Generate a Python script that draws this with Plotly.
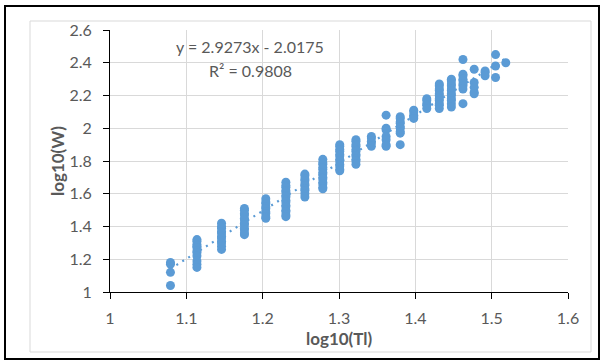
import plotly.graph_objects as go

# ---- data ----
x_groups = [1.0792, 1.1139, 1.1461, 1.1761, 1.2041, 1.2304, 1.2553, 1.2788,
            1.3010, 1.3222, 1.3424, 1.3617, 1.3802, 1.3979, 1.4150, 1.4314,
            1.4472, 1.4624, 1.4771, 1.4914, 1.5051, 1.5185]

y_groups = [
    [1.18, 1.17, 1.12, 1.04],
    [1.32, 1.31, 1.29, 1.28, 1.27, 1.25, 1.24, 1.22, 1.19, 1.17, 1.15],
    [1.42, 1.40, 1.39, 1.37, 1.36, 1.34, 1.33, 1.31, 1.30, 1.28, 1.26],
    [1.51, 1.50, 1.48, 1.47, 1.45, 1.44, 1.42, 1.41, 1.39, 1.38, 1.36, 1.35],
    [1.57, 1.55, 1.54, 1.52, 1.51, 1.49, 1.48, 1.46, 1.45],
    [1.67, 1.65, 1.64, 1.62, 1.61, 1.59, 1.58, 1.56, 1.55, 1.53, 1.52, 1.50, 1.49, 1.47, 1.46],
    [1.72, 1.71, 1.69, 1.68, 1.66, 1.65, 1.63, 1.62, 1.60, 1.58],
    [1.81, 1.79, 1.78, 1.76, 1.75, 1.73, 1.72, 1.70, 1.69, 1.67, 1.66, 1.64, 1.63],
    [1.90, 1.89, 1.87, 1.86, 1.84, 1.83, 1.81, 1.80, 1.78, 1.77, 1.75, 1.74],
    [1.93, 1.92, 1.90, 1.89, 1.87, 1.86, 1.84, 1.83, 1.81, 1.80, 1.78],
    [1.95, 1.94, 1.92, 1.91, 1.89],
    [2.08, 2.00, 1.99, 1.95, 1.93, 1.90, 1.89],
    [2.07, 2.06, 2.04, 2.03, 2.01, 2.00, 1.98, 1.97, 1.90],
    [2.11, 2.10, 2.08, 2.07, 2.06],
    [2.18, 2.17, 2.15, 2.14, 2.12],
    [2.27, 2.26, 2.24, 2.23, 2.21, 2.20, 2.18, 2.17, 2.15, 2.14, 2.12],
    [2.30, 2.29, 2.27, 2.26, 2.24, 2.23, 2.21, 2.20, 2.18, 2.17, 2.15, 2.13],
    [2.42, 2.33, 2.32, 2.30, 2.29, 2.27, 2.26, 2.24, 2.15],
    [2.36, 2.28, 2.25, 2.22, 2.21],
    [2.35, 2.34, 2.32],
    [2.45, 2.38, 2.31],
    [2.40],
]

slope = 2.9273
intercept = -2.0175
r_squared = 0.9808

x_ticks = [1, 1.1, 1.2, 1.3, 1.4, 1.5, 1.6]
y_ticks = [1, 1.2, 1.4, 1.6, 1.8, 2, 2.2, 2.4, 2.6]

# ---- build ----
xs, ys = [], []
for xv, yl in zip(x_groups, y_groups):
    for yv in yl:
        xs.append(xv)
        ys.append(yv)

x_min, x_max = min(xs), max(xs)
trend_x = [x_min, x_max]
trend_y = [slope * v + intercept for v in trend_x]

BLUE = "#5b9bd5"
GREY = "#595959"
FONT = "Lato"

fig = go.Figure()
fig.add_trace(go.Scatter(x=trend_x, y=trend_y, mode="lines",
                         line=dict(color=BLUE, width=2.2, dash="2px,5px"),
                         hoverinfo="skip", showlegend=False))
fig.add_trace(go.Scatter(x=xs, y=ys, mode="markers",
                         marker=dict(color=BLUE, size=9, line=dict(width=0)),
                         showlegend=False))

W, H = 602, 362
L, R, T, B = 110, 34, 30, 70
pw, ph = W - L - R, H - T - B


def px(xp):
    return (xp - L) / pw


def py(yp):
    return (H - B - yp) / ph


axis_common = dict(showgrid=True, gridcolor="#d9d9d9", gridwidth=1,
                   showline=True, linecolor="black", linewidth=1,
                   ticks="outside", ticklen=6, tickcolor="black", tickwidth=1,
                   zeroline=False, tickfont=dict(size=16, color=GREY, family=FONT))

fig.update_layout(
    width=W, height=H,
    margin=dict(l=L, r=R, t=T, b=B, pad=0),
    paper_bgcolor="white", plot_bgcolor="white",
    font=dict(family=FONT, color=GREY, size=16),
    xaxis=dict(range=[1, 1.6], tickvals=x_ticks, ticktext=[f"{v:g}" for v in x_ticks],
               ticklabelstandoff=6, **axis_common),
    yaxis=dict(range=[1, 2.6], tickvals=y_ticks, ticktext=[f"{v:g}" for v in y_ticks],
               ticklabelstandoff=8, **axis_common),
    shapes=[
        dict(type="rect", xref="paper", yref="paper",
             x0=px(5), x1=px(599), y0=py(359), y1=py(6),
             line=dict(color="black", width=2), layer="below"),
        dict(type="rect", xref="paper", yref="paper",
             x0=px(30), x1=px(591), y0=py(352), y1=py(21),
             line=dict(color="#d9d9d9", width=1), layer="below"),
    ],
    annotations=[
        dict(text=f"y = {slope}x - {abs(intercept)}", xref="paper", yref="paper",
             x=px(250), y=py(46), xanchor="center", yanchor="middle",
             showarrow=False, font=dict(size=16, color=GREY, family=FONT)),
        dict(text=f"R² = {r_squared}", xref="paper", yref="paper",
             x=px(250), y=py(70), xanchor="center", yanchor="middle",
             showarrow=False, font=dict(size=16, color=GREY, family=FONT)),
        dict(text="<b>log10(Tl)</b>", xref="paper", yref="paper",
             x=px(339), y=py(338), xanchor="center", yanchor="middle",
             showarrow=False, font=dict(size=17, color=GREY, family=FONT)),
        dict(text="<b>log10(W)</b>", xref="paper", yref="paper",
             x=px(57), y=py(161), xanchor="center", yanchor="middle",
             textangle=-90, showarrow=False,
             font=dict(size=17, color=GREY, family=FONT)),
    ],
)

fig.write_html("out.html",
               config={"displayModeBar": False},
               post_script="document.body.style.margin='0';document.body.style.overflow='hidden';")
